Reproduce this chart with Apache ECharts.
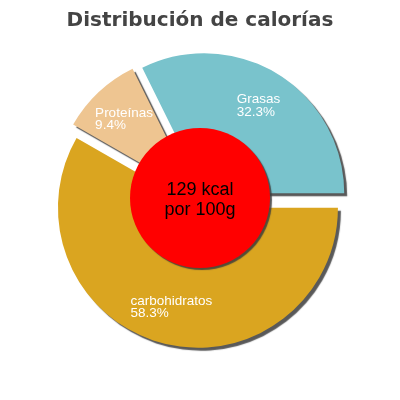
<!DOCTYPE html>
<html>
<head>
<meta charset="utf-8">
<script src="https://cdn.jsdelivr.net/npm/echarts@6/dist/echarts.min.js"></script>
<style>
html,body{margin:0;padding:0;background:#fff;}
#chart{width:400px;height:400px;}
</style>
</head>
<body>
<div id="chart"></div>
<script>
const categories = ['Grasas', 'Proteínas', 'carbohidratos'];
const percentages = [32.3, 9.4, 58.3];
const sliceColors = ['#79c3cc', '#eec591', '#daa520'];
const centerLines = ['129 kcal', 'por 100g'];
const titleText = 'Distribución de calorías';

const pieData = categories.map((c, i) => ({
  name: c, value: percentages[i], selected: true,
  itemStyle: { color: sliceColors[i] }
}));
const labelData = categories.map((c, i) => ({
  name: c, value: percentages[i], selected: true
}));

const chart = echarts.init(document.getElementById('chart'), null, { renderer: 'canvas' });
chart.setOption({
  animation: false,
  backgroundColor: '#ffffff',
  title: {
    text: titleText,
    left: 'center',
    top: 6,
    textStyle: { fontFamily: 'DejaVu Sans', fontWeight: 'bold', fontSize: 20, color: '#444444' }
  },
  series: [
    {
      type: 'pie',
      center: [200, 200],
      radius: [50, 140],
      startAngle: 0,
      clockwise: false,
      selectedMode: 'multiple',
      selectedOffset: 8,
      silent: true,
      label: { show: false },
      labelLine: { show: false },
      itemStyle: {
        borderWidth: 0,
        shadowColor: 'rgba(60,60,60,0.85)',
        shadowBlur: 1,
        shadowOffsetX: 3,
        shadowOffsetY: 3
      },
      emphasis: { disabled: true },
      data: pieData
    },
    {
      type: 'pie',
      center: [200, 198],
      radius: [0, 70],
      silent: true,
      z: 3,
      itemStyle: {
        color: '#ff0000',
        borderWidth: 0,
        shadowColor: 'rgba(60,60,60,0.85)',
        shadowBlur: 1,
        shadowOffsetX: 2,
        shadowOffsetY: 2
      },
      label: { show: false },
      labelLine: { show: false },
      emphasis: { disabled: true },
      data: [{ name: 'kcal', value: 1 }]
    },
    {
      type: 'pie',
      center: [200, 200],
      radius: [0, 1],
      silent: true,
      z: 5,
      itemStyle: { color: 'rgba(0,0,0,0)', borderWidth: 0 },
      label: {
        show: true,
        position: 'center',
        formatter: centerLines.join('\n'),
        fontFamily: 'Liberation Sans',
        fontSize: 18,
        lineHeight: 20,
        color: '#000000'
      },
      labelLine: { show: false },
      emphasis: { disabled: true },
      data: [{ name: 'kcal', value: 1 }]
    },
    {
      type: 'pie',
      center: [200, 200],
      radius: [60, 140],
      startAngle: 0,
      clockwise: false,
      selectedMode: 'multiple',
      selectedOffset: 8,
      silent: true,
      z: 4,
      itemStyle: { color: 'rgba(0,0,0,0)', borderWidth: 0 },
      label: {
        show: true,
        position: 'inside',
        formatter: p => '{n|' + p.name + '}\n{n|' + p.value + '%}',
        rich: {
          n: {
            align: 'left',
            fontFamily: 'Liberation Sans',
            fontSize: 13.5,
            lineHeight: 12.5,
            color: '#ffffff'
          }
        }
      },
      labelLine: { show: false },
      emphasis: { disabled: true },
      data: labelData
    }
  ]
});
</script>
</body>
</html>
